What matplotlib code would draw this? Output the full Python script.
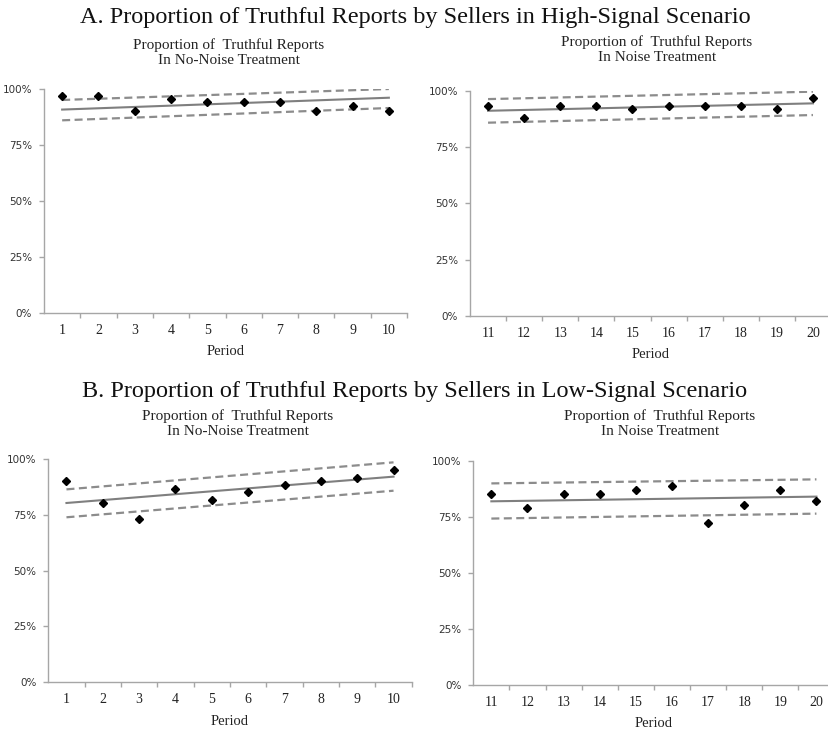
import matplotlib
matplotlib.use("Agg")
import matplotlib.pyplot as plt
from matplotlib.ticker import FixedLocator, FuncFormatter

# ---- data -------------------------------------------------------------
periods_first = [1, 2, 3, 4, 5, 6, 7, 8, 9, 10]
periods_second = [11, 12, 13, 14, 15, 16, 17, 18, 19, 20]

# High-signal scenario (proportion of truthful reports, %)
high_no_noise = [97.0, 97.0, 90.3, 95.4, 94.0, 94.0, 94.0, 90.3, 92.2, 90.3]
high_noise = [93.3, 88.1, 93.3, 93.3, 91.8, 93.3, 93.3, 93.3, 91.8, 96.7]

# Low-signal scenario
low_no_noise = [90.3, 80.1, 73.3, 86.6, 81.5, 85.1, 88.4, 90.3, 91.6, 95.2]
low_noise = [85.3, 78.9, 85.3, 85.3, 87.1, 88.8, 72.2, 80.4, 87.1, 82.1]

# Fitted trend and confidence band (value at first and last period, %)
high_no_noise_fit = [90.8, 96.1]
high_no_noise_upper = [95.1, 100.0]
high_no_noise_lower = [86.0, 91.5]

high_noise_fit = [91.2, 94.5]
high_noise_upper = [96.4, 99.7]
high_noise_lower = [85.9, 89.3]

low_no_noise_fit = [80.3, 92.1]
low_no_noise_upper = [86.4, 98.5]
low_no_noise_lower = [73.9, 85.8]

low_noise_fit = [82.0, 84.1]
low_noise_upper = [90.0, 91.8]
low_noise_lower = [74.3, 76.5]

y_ticks = [0, 25, 50, 75, 100]

main_title_a = "A. Proportion of Truthful Reports by Sellers in High-Signal Scenario"
main_title_b = "B. Proportion of Truthful Reports by Sellers in Low-Signal Scenario"
sub_no_noise = "Proportion of  Truthful Reports\nIn No-Noise Treatment"
sub_noise = "Proportion of  Truthful Reports\nIn Noise Treatment"

# ---- figure -----------------------------------------------------------
W, H = 829, 730
fig = plt.figure(figsize=(W / 100, H / 100), dpi=100)

SERIF = ["Liberation Serif", "DejaVu Serif"]
SANS = ["DejaVu Sans"]
AXIS_GREY = "#a6a6a6"
LINE_GREY = "#7f7f7f"
DASH_GREY = "#8c8c8c"
DASH = (0, (3.6, 2.0))


def px_axes(x0, x1, ytop, ybot):
    return fig.add_axes([x0 / W, 1 - ybot / H, (x1 - x0) / W, (ybot - ytop) / H])


def panel(ax, periods, values, fit, upper, lower):
    n = len(periods)
    pos = list(range(n))
    ends = [pos[0], pos[-1]]
    ax.plot(ends, upper, color=DASH_GREY, lw=1.6, ls=DASH, zorder=2)
    ax.plot(ends, lower, color=DASH_GREY, lw=1.6, ls=DASH, zorder=2)
    ax.plot(ends, fit, color=LINE_GREY, lw=1.5, zorder=2)
    ax.plot(pos, values, ls="none", marker="D", ms=4.3, color="black", zorder=3)

    ax.set_xlim(-0.5, n - 0.5)
    ax.set_ylim(0, 100)
    ax.xaxis.set_major_locator(FixedLocator([p + 0.5 for p in pos]))
    ax.xaxis.set_major_formatter(FuncFormatter(lambda v, i: ""))
    ax.xaxis.set_minor_locator(FixedLocator(pos))
    ax.set_xticklabels([str(p) for p in periods], minor=True)
    ax.tick_params(axis="x", which="major", length=3.5, width=1, color=AXIS_GREY, direction="out")
    ax.tick_params(axis="x", which="minor", length=0, pad=8, labelsize=10)
    for lab in ax.get_xticklabels(minor=True):
        lab.set_fontfamily(SERIF)
        lab.set_color("#222222")

    ax.set_yticks(y_ticks)
    ax.set_yticklabels([f"{t}%" for t in y_ticks])
    ax.tick_params(axis="y", length=3.5, width=1, color=AXIS_GREY, direction="out", pad=5,
                   labelsize=7.5, labelcolor="#333333")
    for lab in ax.get_yticklabels():
        lab.set_fontfamily(SANS)

    for side in ("top", "right"):
        ax.spines[side].set_visible(False)
    for side in ("left", "bottom"):
        ax.spines[side].set_color(AXIS_GREY)
        ax.spines[side].set_linewidth(1)
    ax.set_xlabel("Period", fontfamily=SERIF, fontsize=10.5, color="#222222", labelpad=6)
    ax.patch.set_alpha(0)


ax1 = px_axes(44, 407, 89, 312.7)
panel(ax1, periods_first, high_no_noise, high_no_noise_fit, high_no_noise_upper, high_no_noise_lower)
ax2 = px_axes(470, 831, 91, 315.7)
panel(ax2, periods_second, high_noise, high_noise_fit, high_noise_upper, high_noise_lower)
ax3 = px_axes(48.3, 411.7, 459, 682.3)
panel(ax3, periods_first, low_no_noise, low_no_noise_fit, low_no_noise_upper, low_no_noise_lower)
ax4 = px_axes(473.3, 834.5, 461, 685)
panel(ax4, periods_second, low_noise, low_noise_fit, low_noise_upper, low_noise_lower)


def fig_text(x, y, s, size, **kw):
    fig.text(x / W, 1 - y / H, s, fontsize=size, fontfamily=SERIF, color="#111111",
             ha="center", va="baseline", **kw)


fig_text(415, 23.5, main_title_a, 17.5)
fig_text(415, 397.3, main_title_b, 17.5)

# two-line subtitles, (x centre, baseline of second line)
subtitles = [
    (229, 64, sub_no_noise),
    (657, 61, sub_noise),
    (237.5, 435, sub_no_noise),
    (660, 435, sub_noise),
]
for x, y, s in subtitles:
    fig.text(x / W, 1 - y / H, s, fontsize=11, fontfamily=SERIF, color="#222222",
             ha="center", va="baseline", linespacing=1.2, multialignment="center")

fig.savefig("out.png", dpi=100, facecolor="white")
